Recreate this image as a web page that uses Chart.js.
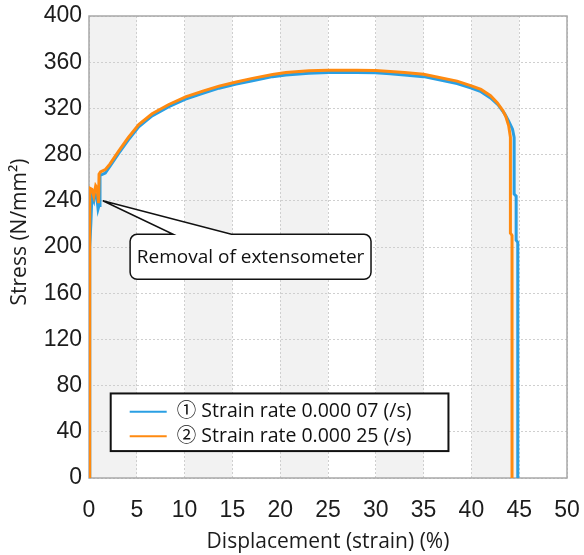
<!DOCTYPE html>
<html>
<head>
<meta charset="utf-8">
<title>Stress-strain curves</title>
<script src="https://cdn.jsdelivr.net/npm/chart.js@4"></script>
<style>
  html, body { margin: 0; padding: 0; background: #fff; }
  #wrap { width: 584px; height: 555px; }
</style>
</head>
<body>
<div id="wrap"><canvas id="chart" width="584" height="555"></canvas></div>
<script>
/* Tensile test: stress vs displacement for two strain rates */

const X_TICKS = [0, 5, 10, 15, 20, 25, 30, 35, 40, 45, 50];
const Y_TICKS = [0, 40, 80, 120, 160, 200, 240, 280, 320, 360, 400];

const SERIES_LABELS = ["\u2460 Strain rate 0.000 07 (/s)", "\u2461 Strain rate 0.000 25 (/s)"];
const SERIES_COLORS = ["#2a9fe3", "#ff8a10"];
const Y_TITLE = "Stress (N/mm\u00b2)";

// strain rate 0.000 07 (/s)
const SLOW_STRAIN = [0.05, 0.08, 0.2, 0.3, 0.5, 0.6, 0.8, 0.95, 1.05, 1.15, 1.7, 2.2, 3.1, 4.1, 5.2, 6.6, 8.35,
  10.1, 11.9, 13.6, 15.4, 17.1, 19.2, 20.6, 23, 25, 28, 30, 31.5, 33, 35, 36.5, 38.5, 40, 41, 42,
  42.8, 43.5, 43.9, 44.3, 44.47, 44.47, 44.68, 44.68, 44.85, 44.85];
const SLOW_STRESS = [0, 200, 222, 244, 240, 246, 245, 233, 236, 262, 264, 270, 281, 292.5, 304, 313.5, 321.5,
  328, 333, 337.5, 341, 344, 347.5, 349, 350.5, 351, 351, 350.8, 350, 349, 347.5, 345, 341.5, 337.5, 334.5, 329,
  323, 315, 309, 302, 295, 246, 244, 206, 204, 0];

// strain rate 0.000 25 (/s)
const FAST_STRAIN = [0.03, 0.05, 0.1, 0.3, 0.5, 0.7, 0.85, 1.0, 1.05, 1.2, 1.7, 2.2, 3.1, 4.1, 5.2, 6.6, 8.35,
  10.1, 11.9, 13.6, 15.4, 17.1, 19.2, 20.6, 23, 25, 28, 30, 31.5, 33, 35, 36.5, 38.5, 40, 41, 42,
  42.7, 43.3, 43.6, 43.9, 44.08, 44.08, 44.25, 44.25];
const FAST_STRESS = [0, 240, 251, 250, 244, 253, 251, 238, 263, 265, 267, 272, 283, 294.6, 306, 315.4, 323.4,
  330, 335, 339.3, 342.8, 346, 349.4, 351, 352.5, 353, 353, 352.8, 352, 351, 349.5, 347, 343.6, 339.5, 336.4, 331,
  325, 318, 313, 305, 295, 212, 210, 0];

// callout, anchored in data units
const CALLOUT_TEXT = "Removal of extensometer";
const CALLOUT = { tipX: 1.45, tipY: 240, left: 4.3, right: 29.5, top: 211, bottom: 172, wedgeL: 8.8, wedgeR: 14.9 };
const LEGEND_BOX = { left: 2.27, right: 37.6, top: 73.2, bottom: 23.3 };

const TICK_FONT = { family: "'Liberation Sans', Arial, sans-serif", size: 23 };
const TEXT_FONT = "'Open Sans', 'Noto Sans', 'Noto Sans CJK JP', sans-serif";
const INK = "#1c1c1c";

const pairs = (xs, ys) => xs.map((x, i) => ({ x, y: ys[i] }));

/* ---------- plugins ---------- */
const bands = {
  id: "bands",
  beforeDraw(chart) {
    const { ctx, chartArea: a, scales: { x } } = chart;
    ctx.save();
    ctx.fillStyle = "#f2f2f2";
    for (let i = 0; i < X_TICKS.length - 1; i += 2) {
      const l = x.getPixelForValue(X_TICKS[i]);
      const r = x.getPixelForValue(X_TICKS[i + 1]);
      ctx.fillRect(l, a.top, r - l, a.bottom - a.top);
    }
    ctx.restore();
  },
  beforeDatasetsDraw(chart) {
    const { ctx, chartArea: a } = chart;
    ctx.save();
    ctx.strokeStyle = "#a8a8a8";
    ctx.lineWidth = 1.5;
    ctx.strokeRect(a.left, a.top, a.right - a.left, a.bottom - a.top);
    ctx.restore();
  },
  afterDraw(chart) {
    // y title sits a bit above the axis centre in the original
    const { ctx, chartArea: a } = chart;
    ctx.save();
    ctx.translate(20, (a.top + a.bottom) / 2 - 15);
    ctx.rotate(-Math.PI / 2);
    ctx.font = `21px ${TEXT_FONT}`;
    ctx.fillStyle = INK;
    ctx.textAlign = "center";
    ctx.textBaseline = "middle";
    ctx.fillText(Y_TITLE, 0, 0);
    ctx.restore();
  },
};

const callout = {
  id: "callout",
  afterDatasetsDraw(chart) {
    const { ctx, scales: { x, y } } = chart;
    const c = CALLOUT;
    const x0 = x.getPixelForValue(c.left), x1 = x.getPixelForValue(c.right);
    const y0 = y.getPixelForValue(c.top), y1 = y.getPixelForValue(c.bottom);
    const r = 7;
    ctx.save();
    ctx.beginPath();
    ctx.moveTo(x0 + r, y0);
    ctx.lineTo(x.getPixelForValue(c.wedgeL), y0);
    ctx.lineTo(x.getPixelForValue(c.tipX), y.getPixelForValue(c.tipY));
    ctx.lineTo(x.getPixelForValue(c.wedgeR), y0);
    ctx.lineTo(x1 - r, y0);
    ctx.arcTo(x1, y0, x1, y0 + r, r);
    ctx.lineTo(x1, y1 - r);
    ctx.arcTo(x1, y1, x1 - r, y1, r);
    ctx.lineTo(x0 + r, y1);
    ctx.arcTo(x0, y1, x0, y1 - r, r);
    ctx.lineTo(x0, y0 + r);
    ctx.arcTo(x0, y0, x0 + r, y0, r);
    ctx.closePath();
    ctx.fillStyle = "#fff";
    ctx.fill();
    ctx.strokeStyle = "#111";
    ctx.lineWidth = 1.5;
    ctx.stroke();
    ctx.fillStyle = "#111";
    ctx.font = `19px ${TEXT_FONT}`;
    ctx.textAlign = "center";
    ctx.textBaseline = "middle";
    ctx.fillText(CALLOUT_TEXT, (x0 + x1) / 2, (y0 + y1) / 2 + 1);
    ctx.restore();
  },
};

const boxLegend = {
  id: "boxLegend",
  afterDatasetsDraw(chart) {
    const { ctx, scales: { x, y } } = chart;
    const b = LEGEND_BOX;
    const x0 = x.getPixelForValue(b.left), x1 = x.getPixelForValue(b.right);
    const y0 = y.getPixelForValue(b.top), y1 = y.getPixelForValue(b.bottom);
    ctx.save();
    ctx.fillStyle = "#fff";
    ctx.fillRect(x0, y0, x1 - x0, y1 - y0);
    ctx.strokeStyle = "#111";
    ctx.lineWidth = 2;
    ctx.strokeRect(x0, y0, x1 - x0, y1 - y0);
    ctx.font = `19.5px ${TEXT_FONT}`;
    ctx.textBaseline = "middle";
    ctx.textAlign = "left";
    chart.data.datasets.forEach((ds, i) => {
      const ly = y0 + 18.3 + i * 24.4;
      ctx.strokeStyle = ds.borderColor;
      ctx.lineWidth = 2;
      ctx.beginPath();
      ctx.moveTo(x0 + 19, ly);
      ctx.lineTo(x0 + 56, ly);
      ctx.stroke();
      ctx.fillStyle = "#111";
      ctx.fillText(ds.label, x0 + 66, ly);
    });
    ctx.restore();
  },
};

/* ---------- chart ---------- */
new Chart(document.getElementById("chart"), {
  type: "line",
  data: {
    datasets: [
      { label: SERIES_LABELS[0], data: pairs(SLOW_STRAIN, SLOW_STRESS), borderColor: SERIES_COLORS[0], order: 1 },
      { label: SERIES_LABELS[1], data: pairs(FAST_STRAIN, FAST_STRESS), borderColor: SERIES_COLORS[1], order: 0 },
    ],
  },
  options: {
    responsive: false,
    animation: false,
    layout: { padding: { top: 16, right: 17, left: 0, bottom: 0 } },
    elements: {
      point: { radius: 0 },
      line: { borderWidth: 3, tension: 0, fill: false },
    },
    plugins: { legend: { display: false }, tooltip: { enabled: false } },
    scales: {
      x: {
        type: "linear",
        min: X_TICKS[0],
        max: X_TICKS[X_TICKS.length - 1],
        afterBuildTicks: (s) => { s.ticks = X_TICKS.map((v) => ({ value: v })); },
        // fixed axis band; label overflow is covered by layout padding
        afterFit: (s) => { s.height = 77; s.paddingLeft = 0; s.paddingRight = 0; },
        grid: { color: "#cfcfcf", drawTicks: false },
        border: { display: false, dash: [2, 2] },
        ticks: { font: TICK_FONT, color: INK, padding: 19, maxRotation: 0 },
        title: { display: true, text: "Displacement (strain) (%)", color: INK,
                 font: { family: TEXT_FONT, size: 21 }, padding: { top: 0, bottom: 0 } },
      },
      y: {
        min: Y_TICKS[0],
        max: Y_TICKS[Y_TICKS.length - 1],
        afterBuildTicks: (s) => { s.ticks = Y_TICKS.map((v) => ({ value: v })); },
        afterFit: (s) => { s.width = 89; s.paddingTop = 0; s.paddingBottom = 0; },
        grid: { color: "#cfcfcf", drawTicks: false },
        border: { display: false, dash: [2, 2] },
        ticks: { font: TICK_FONT, color: INK, padding: 7 },
      },
    },
  },
  plugins: [bands, callout, boxLegend],
});
</script>
</body>
</html>
